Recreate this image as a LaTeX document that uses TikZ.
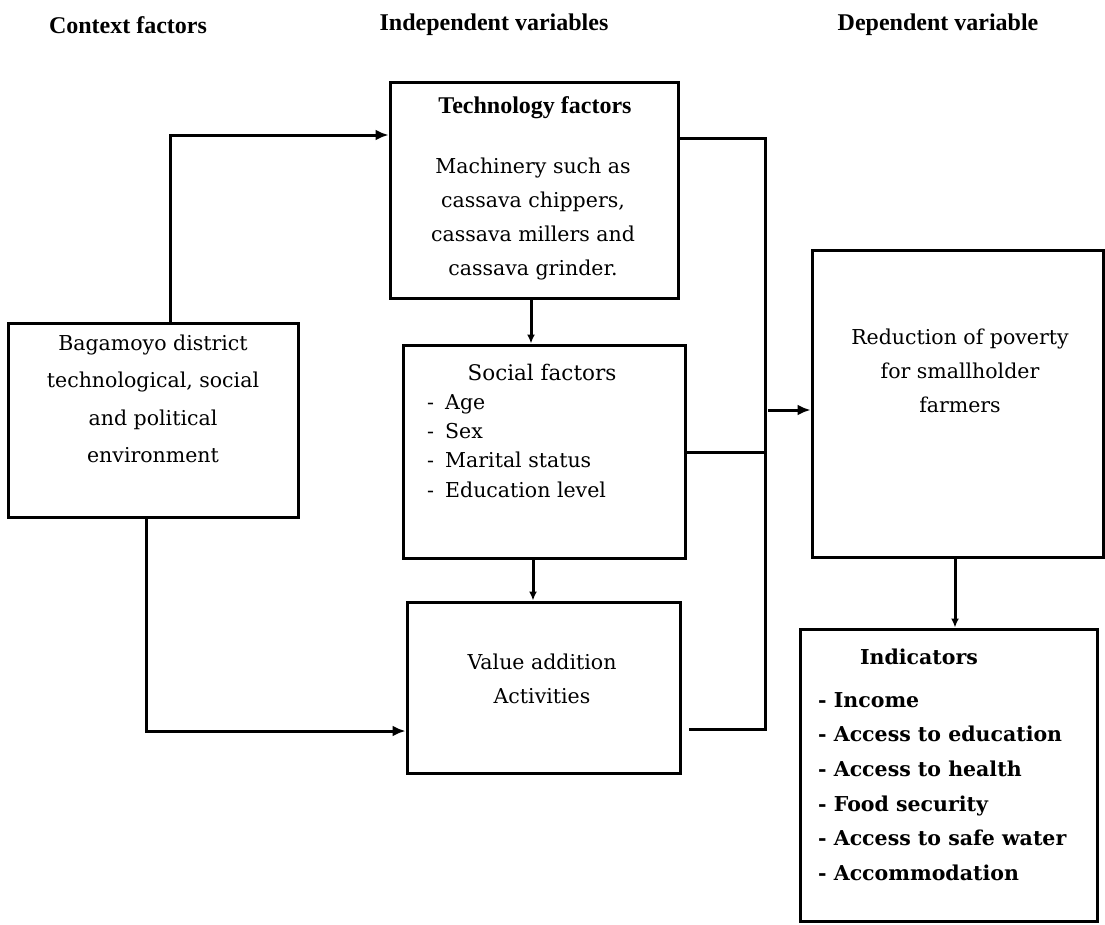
\documentclass[tikz,border=0pt]{standalone}
\usepackage{fontspec}
\setmainfont{DejaVu Serif}
\newfontfamily\hdfont{Liberation Serif}
\usetikzlibrary{arrows.meta}
\begin{document}
\begin{tikzpicture}[x=1pt,y=-1pt,
  box/.style={draw, line width=3pt, rectangle, inner sep=0pt},
  ln/.style={line width=3pt},
  arr/.style={ln, -{Latex[length=13pt,width=11pt]}},
  sarr/.style={ln, -{Latex[length=9pt,width=8pt]}},
  txt/.style={font=\fontsize{20.5}{34}\selectfont, inner sep=0pt, align=center},
  txtb/.style={font=\fontsize{20.5}{37.5}\selectfont, inner sep=0pt, align=center},
  lst/.style={font=\fontsize{20.5}{29.3}\selectfont, inner sep=0pt, align=left, anchor=west},
  ilst/.style={font=\bfseries\fontsize{20.5}{34.6}\selectfont, inner sep=0pt, align=left, anchor=west},
  ttl/.style={font=\bfseries\fontsize{20.5}{25}\selectfont, inner sep=0pt},
  hd/.style={font=\hdfont\bfseries\fontsize{24}{28}\selectfont, inner sep=0pt}]
\useasboundingbox (0,0) rectangle (1105,924);

% headers
\node[hd] (h1) at (128,25) {Context factors};
\node[hd] (h2) at (494,25) {Independent variables};
\node[hd] (h3) at (938,25) {Dependent variable};

% boxes
\node[box, minimum width=290pt, minimum height=194pt] (bag) at (153,420) {};
\node[box, minimum width=288pt, minimum height=216pt] (tech) at (534,190) {};
\node[box, minimum width=282pt, minimum height=213pt] (soc) at (544,451.5) {};
\node[box, minimum width=273pt, minimum height=171pt] (val) at (543.5,687.5) {};
\node[box, minimum width=291pt, minimum height=307pt] (red) at (957.5,403.5) {};
\node[box, minimum width=297pt, minimum height=292pt] (ind) at (948.5,775) {};

% texts
\node[txtb] (bagt) at (153,399) {Bagamoyo district\\technological, social\\and political\\environment};
\node[font=\hdfont\bfseries\fontsize{24}{28}\selectfont, inner sep=0pt] (techh) at (535,108) {Technology factors};
\node[txt] (techt) at (533,219) {Machinery such as\\cassava chippers,\\cassava millers and\\cassava grinder.};
\node[font=\fontsize{21.5}{25}\selectfont, inner sep=0pt] (soch) at (542,372) {Social factors};
\node[lst] (soct) at (427,446) {\makebox[18pt][l]{-}Age\\\makebox[18pt][l]{-}Sex\\\makebox[18pt][l]{-}Marital status\\\makebox[18pt][l]{-}Education level};
\node[txt] (valt) at (542,679) {Value addition\\Activities};
\node[txt] (redt) at (960,371) {Reduction of poverty\\for smallholder\\farmers};
\node[ttl] (indh) at (919,657) {Indicators};
\node[ilst] (indt) at (818,786.5) {- Income\\- Access to education\\- Access to health\\- Food security\\- Access to safe water\\- Accommodation};

% connectors
\coordinate (j1) at (170,135);
\draw[arr] (bag.north -| j1) |- (tech.west |- j1);
\coordinate (j2) at (146,731);
\draw[arr] (bag.south -| j2) |- (val.west |- j2);
\coordinate (j3) at (531,0);
\draw[sarr] (tech.south -| j3) -- (soc.north -| j3);
\coordinate (j4) at (533,0);
\draw[sarr] (soc.south -| j4) -- (val.north -| j4);
\coordinate (bt) at (765,138);
\coordinate (bb) at (765,729);
\draw[ln] (tech.east |- bt) -- (bt) -- (bb) -- ([xshift=7pt]val.east |- bb);
\coordinate (bs) at (765,452);
\draw[ln] (soc.east |- bs) -- (bs);
\coordinate (ba) at (768,410);
\draw[arr] (ba) -- (red.west |- ba);
\coordinate (j8) at (955,0);
\draw[sarr] (red.south -| j8) -- (ind.north -| j8);
\end{tikzpicture}
\end{document}
